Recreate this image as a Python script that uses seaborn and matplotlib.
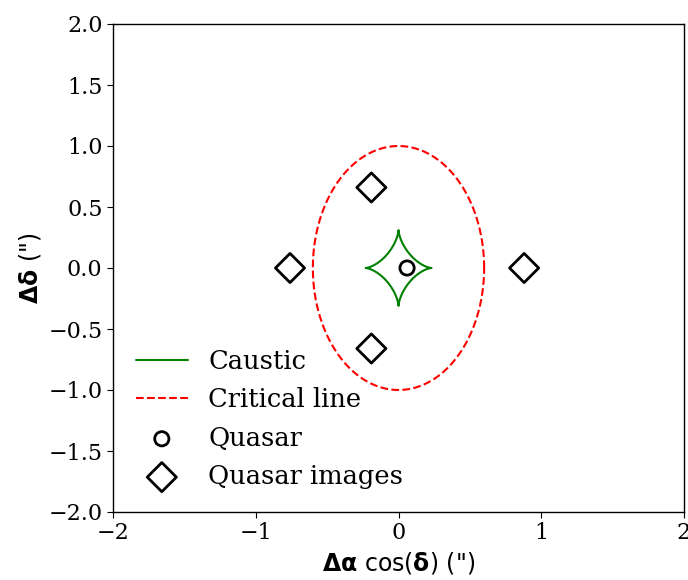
import numpy as np
import pandas as pd
import matplotlib
matplotlib.use("Agg")
import matplotlib.pyplot as plt
import seaborn as sns

# --- data ---
quasar_x = [0.06]
quasar_y = [0.0]
images_x = [-0.76, 0.88, -0.19, -0.19]
images_y = [0.0, 0.0, 0.66, -0.66]
caustic_half_x = 0.23   # astroid cusp extent in x
caustic_half_y = 0.31   # astroid cusp extent in y
critical_half_x = 0.60  # ellipse semi-axis in x
critical_half_y = 1.00  # ellipse semi-axis in y
xticks = [-2, -1, 0, 1, 2]
yticks = [-2.0, -1.5, -1.0, -0.5, 0.0, 0.5, 1.0, 1.5, 2.0]

sns.set_style("ticks")
plt.rcParams["font.family"] = ["DejaVu Serif"]
plt.rcParams["mathtext.fontset"] = "dejavusans"
for k in ["text.color", "axes.labelcolor", "xtick.color", "ytick.color", "axes.edgecolor"]:
    plt.rcParams[k] = "black"

t = np.linspace(0, 2 * np.pi, 400)
caustic = pd.DataFrame({"x": caustic_half_x * np.cos(t) ** 3,
                        "y": caustic_half_y * np.sin(t) ** 3})
critical = pd.DataFrame({"x": critical_half_x * np.cos(t),
                         "y": critical_half_y * np.sin(t)})

fig = plt.figure(figsize=(6.88, 5.8), dpi=100)
ax = fig.add_axes([113 / 688, 68 / 580, 571 / 688, 488 / 580])

sns.lineplot(data=caustic, x="x", y="y", sort=False, estimator=None,
             color="green", lw=1.5, ax=ax, label="Caustic")
sns.lineplot(data=critical, x="x", y="y", sort=False, estimator=None,
             color="red", lw=1.5, ls="--", ax=ax, label="Critical line")
sns.scatterplot(x=quasar_x, y=quasar_y, marker="o", s=105, facecolor="none",
                edgecolor="black", linewidth=2, ax=ax, label="Quasar", zorder=5)
sns.scatterplot(x=images_x, y=images_y, marker="D", s=220, facecolor="none",
                edgecolor="black", linewidth=2, ax=ax, label="Quasar images", zorder=5)

ax.set_xlim(-2, 2)
ax.set_ylim(-2, 2)
ax.set_xticks(xticks)
ax.set_yticks(yticks)
ax.set_xticklabels([f"{v:d}".replace("-", "\u2212") for v in xticks])
ax.set_yticklabels([f"{v:.1f}".replace("-", "\u2212") for v in yticks])
ax.tick_params(labelsize=16, length=4)
for s in ax.spines.values():
    s.set_linewidth(1.0)

ax.set_xlabel(r'$\mathbf{\Delta\alpha}$ cos($\mathbf{\delta}$) (")', family="DejaVu Sans", fontsize=17)
ax.set_ylabel(r'$\mathbf{\Delta\delta}$ (")', family="DejaVu Sans", fontsize=17)

leg = ax.legend(loc="lower left", frameon=False, fontsize=18.5,
                bbox_to_anchor=(0.0, 0.0), handlelength=2.0,
                labelspacing=0.52, markerscale=1.0)

fig.savefig("out.png", dpi=100)
